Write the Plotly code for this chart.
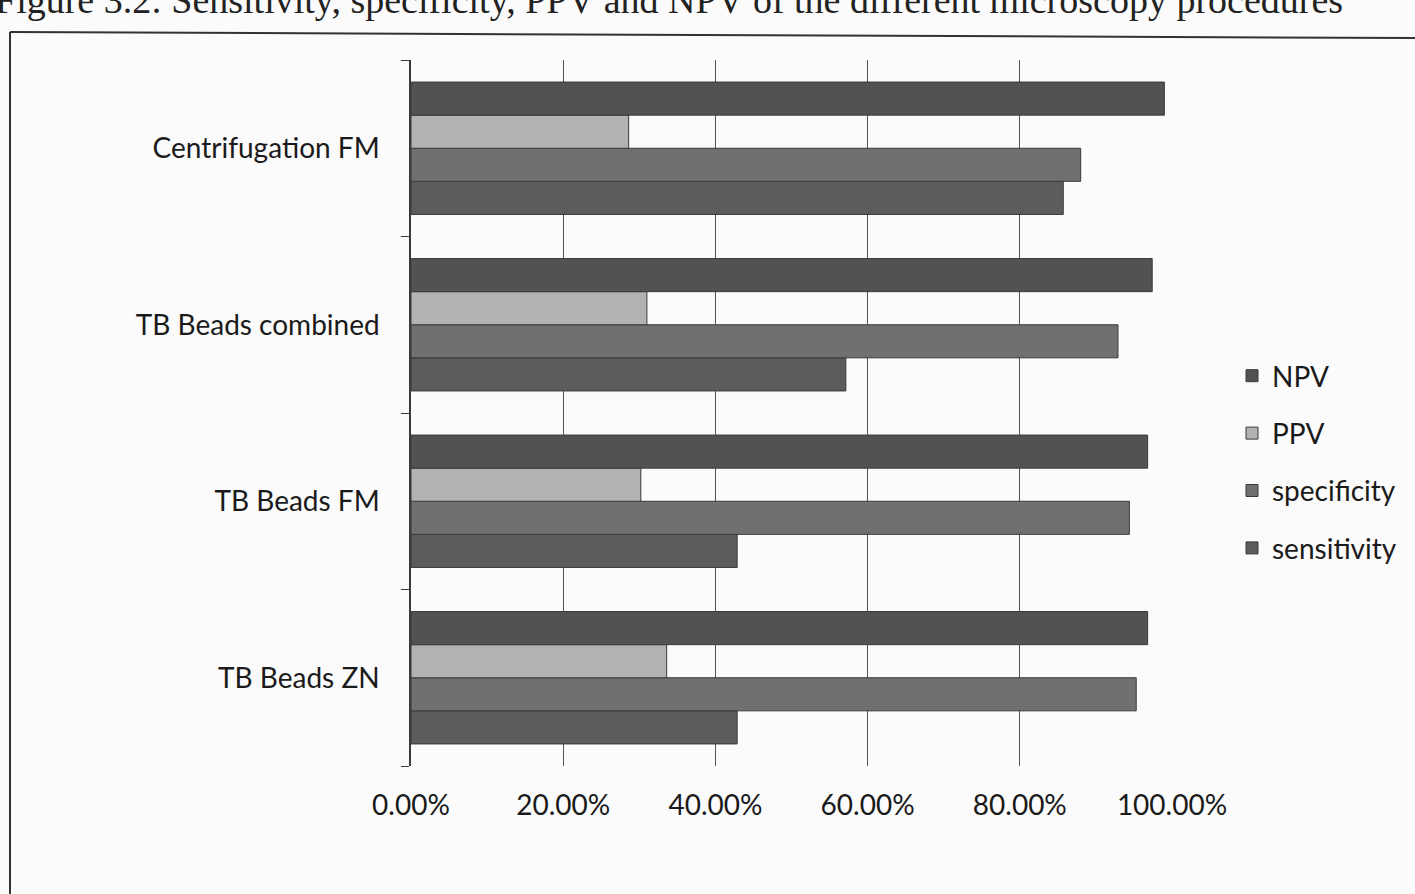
import plotly.graph_objects as go

categories = ["TB Beads ZN", "TB Beads FM", "TB Beads combined", "Centrifugation FM"]
sensitivity = [0.4286, 0.4286, 0.5714, 0.8571]
specificity = [0.953, 0.944, 0.929, 0.880]
ppv = [0.336, 0.302, 0.310, 0.286]
npv = [0.968, 0.968, 0.974, 0.990]

series = [
    ("sensitivity", sensitivity, "#5c5c5c", 4),
    ("specificity", specificity, "#707070", 3),
    ("PPV", ppv, "#b2b2b2", 2),
    ("NPV", npv, "#525252", 1),
]

fig = go.Figure()
for name, vals, col, rank in series:
    fig.add_trace(go.Bar(
        y=categories, x=vals, name=name, orientation="h", legendgroup=name,
        legendrank=rank,
        marker=dict(color=col, line=dict(color="#3a3a3a", width=1)),
    ))

W, H = 1415, 894
L, R, T, B = 411, 1172, 60, 766

def px(x):
    return (x - L) / (R - L)

def py(y):
    return (B - y) / (B - T)

font = "Lato, 'Open Sans', sans-serif"
fig.update_layout(
    width=W, height=H,
    margin=dict(l=L, r=W - R, t=T, b=H - B),
    barmode="group", bargap=0.25, bargroupgap=0,
    paper_bgcolor="#fbfbfb", plot_bgcolor="#fbfbfb",
    font=dict(family=font, color="#1a1a1a", size=28),
    showlegend=True,
    legend=dict(traceorder="grouped", x=px(1232), y=py(351), xanchor="left", yanchor="top",
                font=dict(size=28), tracegroupgap=18,
                bgcolor="rgba(0,0,0,0)"),
    xaxis=dict(range=[0, 1], tickvals=[0, 0.2, 0.4, 0.6, 0.8, 1.0],
               tickformat=".2%", showgrid=True, gridcolor="#555555", gridwidth=1,
               zeroline=False, showline=False, ticks="", tickfont=dict(size=28),
               ticklabelstandoff=20, fixedrange=True),
    yaxis=dict(showline=True, linecolor="#3a3a3a", linewidth=1.5, ticks="outside",
               tickson="boundaries", ticklen=8, tickcolor="#3a3a3a",
               showgrid=False, tickfont=dict(size=28), ticklabelstandoff=24,
               fixedrange=True),
    shapes=[
        dict(type="line", xref="paper", yref="paper", x0=px(10), x1=px(1415), y0=py(32), y1=py(38),
             line=dict(color="#333333", width=2)),
        dict(type="line", xref="paper", yref="paper", x0=px(10), x1=px(10), y0=py(32), y1=py(900),
             line=dict(color="#333333", width=2)),
    ],
    annotations=[
        dict(text="Figure 3.2: Sensitivity, specificity, PPV and NPV of the different microscopy procedures",
             xref="paper", yref="paper", x=px(1345), y=py(23), xanchor="right", yanchor="bottom",
             showarrow=False, font=dict(family="'Liberation Serif', serif", size=38, color="#222222")),
    ],
)
fig.write_html("out.html", config={"displayModeBar": False},
               post_script="document.body.style.margin='0px';document.body.style.overflow='hidden';")
